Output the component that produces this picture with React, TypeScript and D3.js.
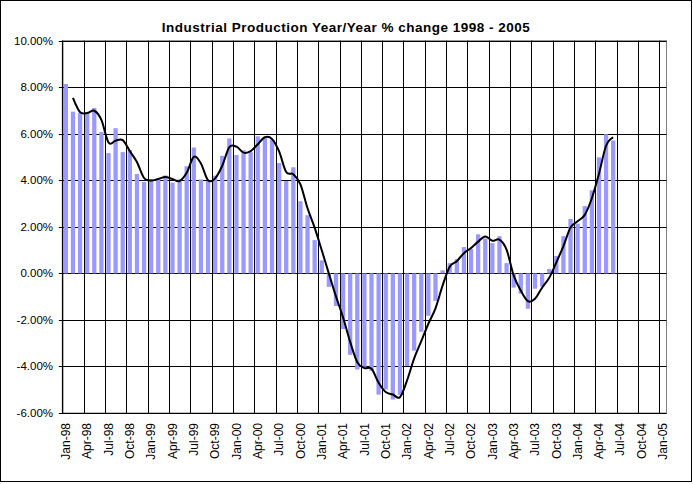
import React from "react";
import * as d3 from "d3";

const monthNames = ["Jan", "Feb", "Mar", "Apr", "May", "Jun", "Jul", "Aug", "Sep", "Oct", "Nov", "Dec"];
const years = ["98", "99", "00", "01", "02", "03", "04", "05"];
const categories = years.flatMap((y) => monthNames.map((m) => `${m}-${y}`)).slice(0, 85);

const tickLabels = [
  "Jan-98", "Apr-98", "Jul-98", "Oct-98",
  "Jan-99", "Apr-99", "Jul-99", "Oct-99",
  "Jan-00", "Apr-00", "Jul-00", "Oct-00",
  "Jan-01", "Apr-01", "Jul-01", "Oct-01",
  "Jan-02", "Apr-02", "Jul-02", "Oct-02",
  "Jan-03", "Apr-03", "Jul-03", "Oct-03",
  "Jan-04", "Apr-04", "Jul-04", "Oct-04",
  "Jan-05",
];

const yTicks = [10, 8, 6, 4, 2, 0, -2, -4, -6];

// Year/Year % change, monthly from Jan-98
const barStart = "Jan-98";
const barValues = [
  8.14, 6.95, 6.91, 6.87, 7.11, 6.08, 5.17, 6.24, 5.21, 5.3,
  4.27, 3.93, 4.05, 4.07, 4.21, 3.9, 4.04, 4.6, 5.41, 4.04,
  3.97, 4.2, 5.05, 5.8, 5.09, 5.29, 5.21, 5.89, 5.81, 5.74,
  4.74, 3.97, 4.56, 3.1, 2.5, 1.43, 0.56, -0.58, -1.4, -2.39,
  -3.5, -4.13, -4.01, -4.19, -5.21, -4.99, -5.42, -5.22, -3.98, -3.32,
  -2.51, -1.82, -1.18, 0.13, 0.44, 0.61, 1.13, 1.05, 1.68, 1.5,
  1.3, 1.6, 0.44, -0.61, -0.87, -1.52, -0.66, -0.57, 0.19, 0.75,
  1.6, 2.34, 2.14, 2.89, 3.57, 4.99, 5.98, 5.71,
];

// Trend line, monthly from Feb-98
const lineStart = "Feb-98";
const lineValues = [
  7.545, 6.93, 6.89, 6.99, 6.595, 5.625, 5.705, 5.725, 5.255, 4.785,
  4.1, 3.99, 4.06, 4.14, 4.055, 3.97, 4.32, 5.005, 4.725, 4.005,
  4.085, 4.625, 5.425, 5.445, 5.19, 5.25, 5.55, 5.85, 5.775, 5.24,
  4.355, 4.265, 3.83, 2.8, 1.965, 0.995, -0.01, -0.99, -1.895, -2.945,
  -3.815, -4.07, -4.1, -4.7, -5.1, -5.205, -5.32, -4.6, -3.65, -2.915,
  -2.165, -1.5, -0.525, 0.285, 0.525, 0.87, 1.09, 1.365, 1.59, 1.4,
  1.45, 1.02, -0.085, -0.74, -1.195, -1.09, -0.615, -0.19, 0.47, 1.175,
  1.97, 2.24, 2.515, 3.23, 4.28, 5.485, 5.845,
];

const title = "Industrial Production Year/Year % change 1998 - 2005";

const W = 693;
const H = 484;
const plot = { left: 62.3, right: 666.5, top: 40.7, bottom: 413 };
const FONT = "'Liberation Sans', Arial, sans-serif";

export default function App() {
  const x = d3
    .scaleBand<string>()
    .domain(categories)
    .range([plot.left, plot.right])
    .paddingInner(0.4)
    .paddingOuter(0.2);
  const step = x.step();
  const binStart = (c: string) => (x(c) as number) - (step - x.bandwidth()) / 2;
  const center = (c: string) => (x(c) as number) + x.bandwidth() / 2;

  const y = d3.scaleLinear().domain([-6, 10]).range([plot.bottom, plot.top]);

  const b0 = categories.indexOf(barStart);
  const l0 = categories.indexOf(lineStart);

  const linePts: [number, number][] = lineValues.map((v, i) => [center(categories[l0 + i]), y(v)]);
  const linePath = d3.line().curve(d3.curveCardinal.tension(0))(linePts) || "";

  return (
    <svg
      width={W}
      height={H}
      style={{ position: "absolute", left: 0, top: 0, background: "#fff" }}
      fontFamily={FONT}
    >
      <rect x={0} y={0} width={W} height={H} fill="#fff" />
      <rect x={0.5} y={0.5} width={W - 2} height={H - 3} fill="none" stroke="#000" strokeWidth={1} />

      <text
        x={346}
        y={32}
        textAnchor="middle"
        fontSize={13.5}
        fontWeight="bold"
        letterSpacing={0.5}
        fill="#000"
      >
        {title}
      </text>

      {/* plot area border */}
      <rect
        x={plot.left}
        y={plot.top}
        width={plot.right - plot.left}
        height={plot.bottom - plot.top}
        fill="#fff"
        stroke="#808080"
        strokeWidth={1}
      />

      {/* horizontal gridlines */}
      {yTicks.map((t) => (
        <line
          key={"h" + t}
          x1={plot.left}
          x2={plot.right}
          y1={Math.round(y(t)) + 0.5}
          y2={Math.round(y(t)) + 0.5}
          stroke="#000"
          strokeWidth={1}
        />
      ))}

      {/* vertical gridlines */}
      {tickLabels.map((lab) => {
        const gx = Math.round(binStart(lab)) + 0.5;
        return (
          <line key={"v" + lab} x1={gx} x2={gx} y1={plot.top} y2={plot.bottom} stroke="#000" strokeWidth={1} />
        );
      })}

      {/* bars */}
      {barValues.map((v, i) => {
        const c = categories[b0 + i];
        const y1 = y(Math.max(0, v));
        const y2 = y(Math.min(0, v));
        return (
          <rect
            key={"b" + i}
            x={x(c) as number}
            y={y1}
            width={x.bandwidth()}
            height={Math.max(0.5, y2 - y1)}
            fill="#9999FF"
          />
        );
      })}

      {/* trend line */}
      <path d={linePath} fill="none" stroke="#000" strokeWidth={2} strokeLinejoin="round" />

      {/* y axis */}
      <line x1={plot.left + 0.5} x2={plot.left + 0.5} y1={plot.top} y2={plot.bottom} stroke="#000" />
      {yTicks.map((t) => (
        <g key={"yt" + t}>
          <line
            x1={plot.left - 3.5}
            x2={plot.left}
            y1={Math.round(y(t)) + 0.5}
            y2={Math.round(y(t)) + 0.5}
            stroke="#000"
          />
          <text x={53} y={y(t)} dy="0.35em" textAnchor="end" fontSize={11.5} fill="#000">
            {`${t.toFixed(2)}%`}
          </text>
        </g>
      ))}

      {/* x axis line */}
      <line x1={plot.left} x2={plot.right} y1={plot.bottom + 0.5} y2={plot.bottom + 0.5} stroke="#000" />

      {/* x labels */}
      {tickLabels.map((lab) => (
        <text
          key={"xl" + lab}
          transform={`translate(${center(lab)},423) rotate(-90)`}
          textAnchor="end"
          dy="0.35em"
          fontSize={12}
          fill="#000"
        >
          {lab}
        </text>
      ))}
    </svg>
  );
}
